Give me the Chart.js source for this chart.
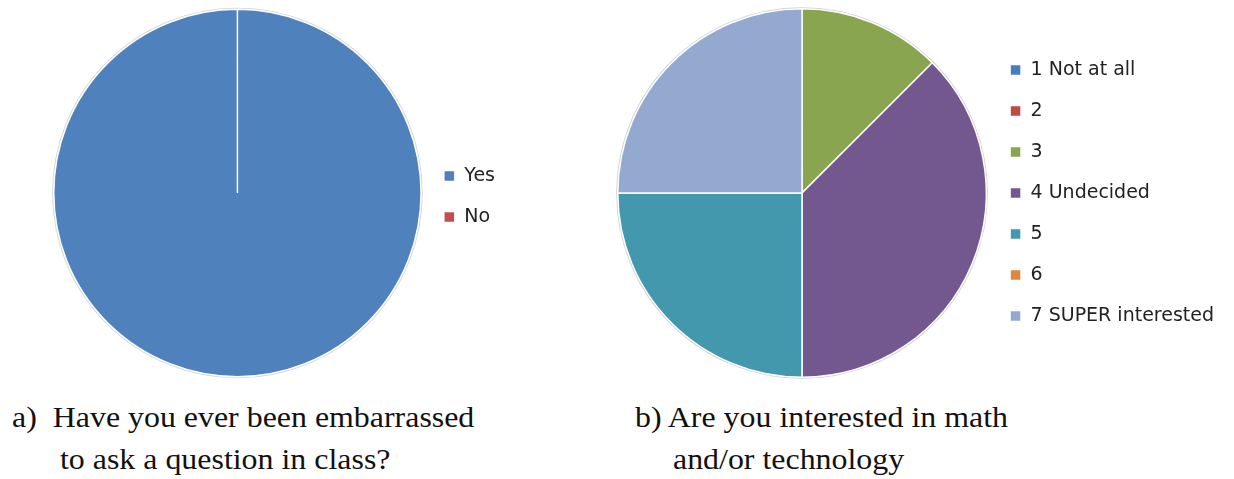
<!DOCTYPE html>
<html>
<head>
<meta charset="utf-8">
<script src="https://cdn.jsdelivr.net/npm/chart.js@4/dist/chart.umd.min.js"></script>
<style>
  body { margin: 0; background: #fff; width: 1234px; height: 479px; overflow: hidden; position: relative; }
  .panel { position: absolute; top: 0; height: 386px; }
  .cap { position: absolute; font-family: 'Liberation Serif', serif; font-size: 29px; line-height: 42px; color: #111;
         white-space: pre; transform: scaleX(1.1); transform-origin: 0 0; }
</style>
</head>
<body>

<div class="panel" style="left:0; width:600px;"><canvas id="embarrassed"></canvas></div>
<div class="panel" style="left:590px; width:634px;"><canvas id="interest"></canvas></div>

<div class="cap" style="left:12px; top:396px;">a)  Have you ever been embarrassed</div>
<div class="cap" style="left:60px; top:438px;">to ask a question in class?</div>
<div class="cap" style="left:635px; top:396px;">b) Are you interested in math</div>
<div class="cap" style="left:673px; top:438px;">and/or technology</div>

<script>
/*  Two survey pies: embarrassment + interest in math/tech  */

Chart.defaults.font.family = "'DejaVu Sans', sans-serif";
Chart.defaults.color = '#222';
Chart.defaults.animation = false;


// DATA

var embarrassedLabels = ['Yes', 'No'];
var embarrassedCounts = [8, 0];
var embarrassedColors = ['#4F81BD', '#C0504D'];

var interestLabels = ['1 Not at all', '2', '3', '4 Undecided', '5', '6', '7 SUPER interested'];
var interestCounts = [0, 0, 1, 3, 2, 0, 2];
var interestColors = ['#4A7EBB', '#BE4B48', '#8AA54F', '#72588E', '#4398AE', '#E0873F', '#94A9CF'];



// faint grey rim round the pie, like the office export
var rimPlugin = {
    id: 'rim',
    beforeDatasetsDraw: function(chart) {
        var arc = chart.getDatasetMeta(0).data[0];
        if (!arc) return;
        var ctx = chart.ctx;
        ctx.save();
        ctx.beginPath();
        ctx.arc(arc.x, arc.y, arc.outerRadius + 0.8, 0, Math.PI * 2);
        ctx.strokeStyle = 'rgba(0,0,0,0.18)';
        ctx.lineWidth = 1.6;
        ctx.stroke();
        ctx.restore();
    }
};


function makePie(id, labels, counts, colors, pad, nudge) {
    var ctx = document.getElementById(id).getContext('2d');
    return new Chart(ctx, {
        type: 'pie',
        data: {
            labels: labels,
            datasets: [{
                data: counts,
                backgroundColor: colors,
                borderColor: '#ffffff',
                borderWidth: 1.5,
            }],
        },
        options: {
            responsive: true,
            maintainAspectRatio: false,
            layout: {padding: pad},
            plugins: {
                legend: {
                    display: true,
                    position: 'right',
                    // empty title only pushes the items down a touch
                    title: {display: nudge > 0, text: '', font: {size: nudge}, padding: 1},
                    labels: {
                        boxWidth: 11,
                        boxHeight: 11,
                        padding: 22,
                        font: {size: 19},
                        color: '#222',
                    },
                },
                tooltip: {enabled: false},
            },
        },
        plugins: [rimPlugin],
    });
}


var embarrassed_pie = makePie('embarrassed', embarrassedLabels, embarrassedCounts, embarrassedColors,
    {left: 53, top: 8, bottom: 8, right: 95}, 4);

var interest_pie = makePie('interest', interestLabels, interestCounts, interestColors,
    {left: 26, top: 8, bottom: 8, right: 0}, 0);

</script>
</body>
</html>
